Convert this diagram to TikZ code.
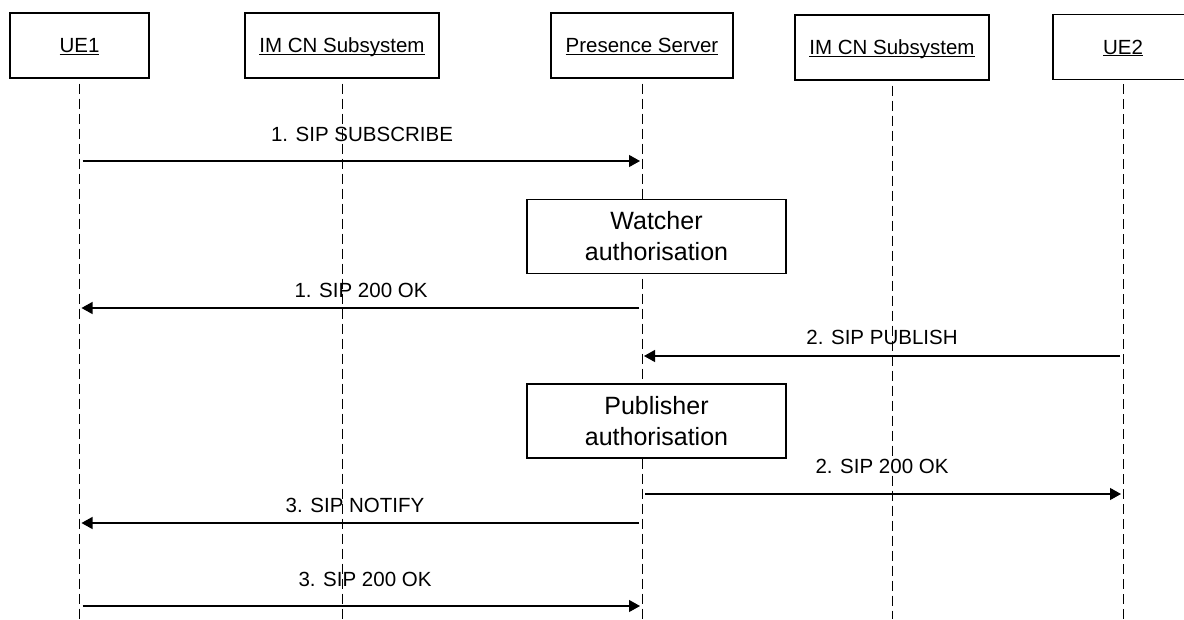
\documentclass[tikz,border=0pt]{standalone}
\usepackage{fontspec}
\setmainfont{Liberation Sans}
\usetikzlibrary{arrows.meta}
\newcommand{\actorname}[1]{\underline{\smash{#1}}}
\tikzset{
  actor/.style={draw, line width=1.2pt, fill=white, inner sep=0pt, minimum width=#1, minimum height=65pt, text height=18pt, text depth=4pt, font=\fontsize{20.5}{24}\selectfont},
  procbox/.style={draw, line width=1.3pt, fill=white, inner sep=0pt, minimum width=259pt, minimum height=74pt, align=center, font=\fontsize{25}{31}\selectfont},
  life/.style={line width=0.9pt, dash pattern=on 10pt off 5pt},
  msg/.style={line width=1.2pt, -{Triangle[length=11pt,width=12pt]}, shorten <=3pt, shorten >=2pt},
  lbl/.style={anchor=base, inner sep=0pt, font=\fontsize{20.5}{24}\selectfont}
}
\begin{document}
\begin{tikzpicture}[x=1pt,y=-1pt]
\useasboundingbox (0,0) rectangle (1184,619);
% actors
\node[actor=139pt] (ue1) at (79.5,45.5) {\actorname{UE1}};
\node[actor=194pt] (ims1) at (342,45.5) {\actorname{IM CN Subsystem}};
\node[actor=182pt] (ps) at (642,45.5) {\actorname{Presence Server}};
\node[actor=194pt] (ims2) at (892,47.5) {\actorname{IM CN Subsystem}};
\node[actor=140pt] (ue2) at (1123,47) {\actorname{UE2}};
% lifeline ends
\coordinate (ue1e) at (79.5,619);
\coordinate (ims1e) at (342,619);
\coordinate (pse) at (642,619);
\coordinate (ims2e) at (892,619);
\coordinate (ue2e) at (1123,619);
\draw[life] ([yshift=-5pt]ue1.south) -- (ue1e);
\draw[life] ([yshift=-5pt]ims1.south) -- (ims1e);
\draw[life] ([yshift=-5pt]ps.south) -- (pse);
\draw[life] ([yshift=-5pt]ims2.south) -- (ims2e);
\draw[life] ([yshift=-4pt]ue2.south) -- (ue2e);
% message levels
\coordinate (m1) at (0,161);
\coordinate (m2) at (0,308);
\coordinate (m3) at (0,356);
\coordinate (m4) at (0,494);
\coordinate (m5) at (0,523);
\coordinate (m6) at (0,606);
% process boxes
\node[procbox] (watch) at (656.5,236.5) {Watcher\\authorisation};
\node[procbox] (pub) at (656.5,421) {Publisher\\authorisation};
% messages
\draw[msg] (ue1 |- m1) -- (ps |- m1);
\node[lbl] (l1) at (362,141) {1. SIP SUBSCRIBE};
\draw[msg] (ps |- m2) -- (ue1 |- m2);
\node[lbl] (l2) at (361,297) {1. SIP 200 OK};
\draw[msg] (ue2 |- m3) -- (ps |- m3);
\node[lbl] (l3) at (882,344) {2. SIP PUBLISH};
\draw[msg] (ps |- m4) -- (ue2 |- m4);
\node[lbl] (l4) at (882,473) {2. SIP 200 OK};
\draw[msg] (ps |- m5) -- (ue1 |- m5);
\node[lbl] (l5) at (355,512) {3. SIP NOTIFY};
\draw[msg] (ue1 |- m6) -- (ps |- m6);
\node[lbl] (l6) at (365,586) {3. SIP 200 OK};
\end{tikzpicture}
\end{document}
